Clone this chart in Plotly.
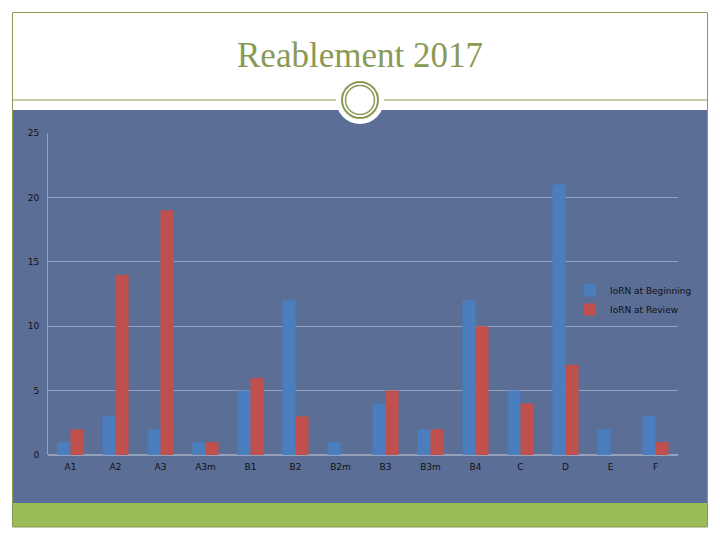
import plotly.graph_objects as go

categories = ["A1", "A2", "A3", "A3m", "B1", "B2", "B2m", "B3", "B3m", "B4", "C", "D", "E", "F"]
beginning = [1, 3, 2, 1, 5, 12, 1, 4, 2, 12, 5, 21, 2, 3]
review = [2, 14, 19, 1, 6, 3, 0, 5, 2, 10, 4, 7, 0, 1]
y_ticks = [0, 5, 10, 15, 20, 25]

W, H = 720, 540
def px(x): return x / W
def py(y): return 1 - y / H

olive = "#8a9a55"
panel = "#5b6e96"

fig = go.Figure()
fig.add_trace(go.Bar(name="IoRN at Beginning", x=categories, y=beginning,
                     marker=dict(color="#4a7ebf", line=dict(width=0))))
fig.add_trace(go.Bar(name="IoRN at Review", x=categories, y=review,
                     marker=dict(color="#c0504d", line=dict(width=0))))

shapes = [
    dict(type="rect", xref="paper", yref="paper", x0=px(12.5), x1=px(707.5), y0=py(503), y1=py(110),
         fillcolor=panel, line=dict(width=0), layer="below"),
    dict(type="rect", xref="paper", yref="paper", x0=px(12.5), x1=px(707.5), y0=py(527), y1=py(503),
         fillcolor="#9bbb59", line=dict(width=0), layer="below"),
    dict(type="rect", xref="paper", yref="paper", x0=px(12.5), x1=px(707.5), y0=py(527), y1=py(12.5),
         fillcolor="rgba(0,0,0,0)", line=dict(color=olive, width=1), layer="above"),
    dict(type="line", xref="paper", yref="paper", x0=px(12.5), x1=px(707.5), y0=py(100), y1=py(100),
         line=dict(color=olive, width=1), layer="above"),
    dict(type="circle", xref="paper", yref="paper", x0=px(360 - 24), x1=px(360 + 24), y0=py(100 + 24), y1=py(100 - 24),
         fillcolor="white", line=dict(width=0), layer="above"),
    dict(type="circle", xref="paper", yref="paper", x0=px(360 - 18), x1=px(360 + 18), y0=py(100 + 18), y1=py(100 - 18),
         fillcolor="rgba(0,0,0,0)", line=dict(color=olive, width=2), layer="above"),
    dict(type="circle", xref="paper", yref="paper", x0=px(360 - 14.5), x1=px(360 + 14.5), y0=py(100 + 14.5), y1=py(100 - 14.5),
         fillcolor="rgba(0,0,0,0)", line=dict(color=olive, width=1.5), layer="above"),
]

fig.update_layout(
    width=W, height=H,
    margin=dict(l=0, r=0, t=0, b=0, pad=0, autoexpand=False),
    paper_bgcolor="white",
    plot_bgcolor="rgba(0,0,0,0)",
    barmode="group",
    bargap=0.42,
    bargroupgap=0,
    shapes=shapes,
    font=dict(family="DejaVu Sans", size=9, color="#111111"),
    showlegend=True,
    legend=dict(x=px(570), y=py(276), xanchor="left", yanchor="top",
                bgcolor="rgba(0,0,0,0)", font=dict(size=9, color="#111111"),
                itemwidth=30, tracegroupgap=0),
    annotations=[dict(text="Reablement 2017", x=0.5, y=py(55), xref="paper", yref="paper",
                      xanchor="center", yanchor="middle", showarrow=False,
                      font=dict(family="Liberation Serif", size=35, color=olive))],
    xaxis=dict(domain=[px(48), px(678)], showgrid=False, showline=False, ticks="",
               tickfont=dict(size=9), fixedrange=True, automargin=False,
               ticklabelstandoff=5),
    yaxis=dict(domain=[py(455), py(133)], range=[0, 25], tickvals=y_ticks,
               showgrid=True, gridcolor="#95a2be", gridwidth=1,
               zeroline=True, zerolinecolor="#95a2be", automargin=False,
               showline=True, linecolor="#95a2be", ticks="", tickfont=dict(size=9),
               ticklabelstandoff=6),
)

fig.write_html("out.html", config={"displayModeBar": False},
               post_script="document.body.style.margin='0';document.body.style.padding='0';")
